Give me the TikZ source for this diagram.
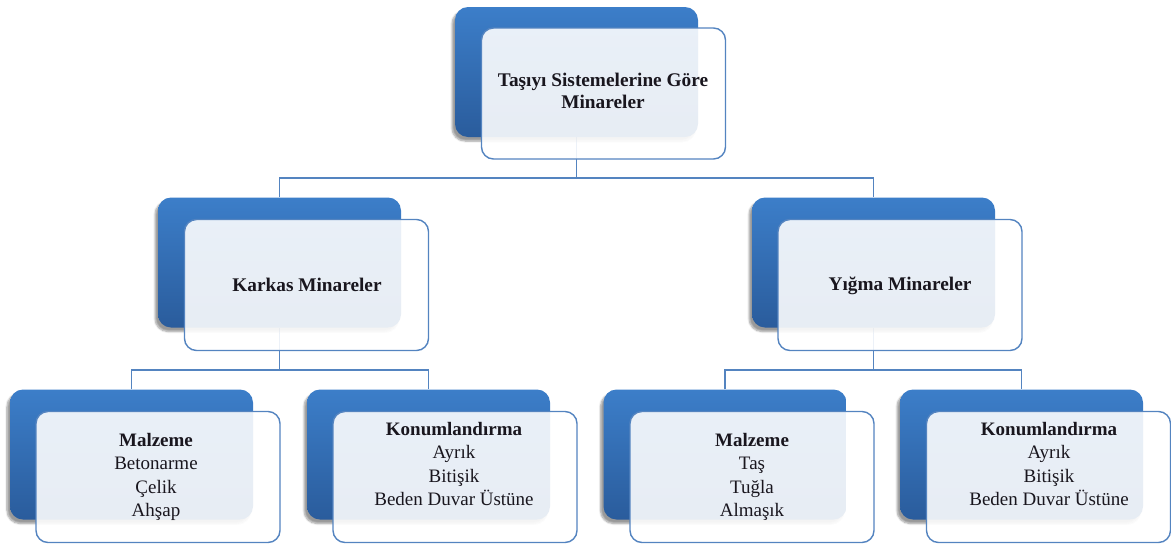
\documentclass[tikz,border=0pt]{standalone}
\usepackage{fontspec}
\setmainfont{Liberation Serif}
\usetikzlibrary{shadows.blur,backgrounds}
\definecolor{btop}{RGB}{60,126,201}
\definecolor{bbot}{RGB}{42,92,156}
\definecolor{bord}{RGB}{84,132,192}
\definecolor{txt}{RGB}{25,22,30}
\tikzset{
  backbox/.style={rounded corners=13pt, minimum width=243pt, minimum height=130pt,
    top color=btop, bottom color=bbot, draw=none, inner sep=0pt,
    blur shadow={shadow xshift=-3pt, shadow yshift=-4pt, shadow blur steps=6, shadow opacity=40}},
  frontbox/.style={rounded corners=12pt, minimum width=244pt, minimum height=131pt,
    fill=white, fill opacity=0.89, draw=bord, draw opacity=1, line width=1.4pt, inner sep=0pt},
  conn/.style={draw=bord, line width=1.4pt},
  lbl/.style={align=center, text=txt, font=\fontsize{19}{23.3}\selectfont, inner sep=0pt},
  ttl/.style={align=center, text=txt, font=\fontsize{19.3}{22}\selectfont\bfseries, inner sep=0pt}
}
\begin{document}
\begin{tikzpicture}[x=1pt,y=-1pt]
\useasboundingbox (0,0) rectangle (1171,547);
% back boxes
\node[backbox] (bT) at (576.5,72) {};
\node[backbox] (bK) at (279.5,262.5) {};
\node[backbox] (bY) at (873.5,262.5) {};
\node[backbox] (bM1) at (131.5,454.5) {};
\node[backbox] (bK1) at (428.5,454.5) {};
\node[backbox] (bM2) at (725,454.5) {};
\node[backbox] (bK2) at (1021.5,454.5) {};
% junctions
\coordinate (j0) at (576.5,178);
\coordinate (jK) at (279.5,370);
\coordinate (jY) at (873.5,370);
% connectors (behind the boxes)
\begin{scope}[on background layer]
\draw[conn] (bT.south) -- (j0);
\draw[conn] (bK.north) |- (j0) -| (bY.north);
\draw[conn] (bK.south) -- (jK);
\draw[conn] (bM1.north) |- (jK) -| (bK1.north);
\draw[conn] (bY.south) -- (jY);
\draw[conn] (bM2.north) |- (jY) -| (bK2.north);
\end{scope}
% front boxes
\node[frontbox] (fT) at (603.5,93.5) {};
\node[frontbox] (fK) at (306.5,285) {};
\node[frontbox] (fY) at (900,285) {};
\node[frontbox] (fM1) at (158,477) {};
\node[frontbox] (fK1) at (455,477) {};
\node[frontbox] (fM2) at (752,477) {};
\node[frontbox] (fK2) at (1048.5,477) {};
% texts
\node[ttl] (tT) at (603,91) {Taşıyı Sistemelerine Göre\\Minareler};
\node[ttl] (tK) at (307,285) {Karkas Minareler};
\node[ttl] (tY) at (900,286) {Yığma Minareler};
\node[lbl] (tM1) at (156,477) {\textbf{Malzeme}\\Betonarme\\Çelik\\Ahşap};
\node[lbl] (tK1) at (454,464) {\textbf{Konumlandırma}\\Ayrık\\Bitişik\\Beden Duvar Üstüne};
\node[lbl] (tM2) at (752,477) {\textbf{Malzeme}\\Taş\\Tuğla\\Almaşık};
\node[lbl] (tK2) at (1049,464) {\textbf{Konumlandırma}\\Ayrık\\Bitişik\\Beden Duvar Üstüne};
\end{tikzpicture}
\end{document}
